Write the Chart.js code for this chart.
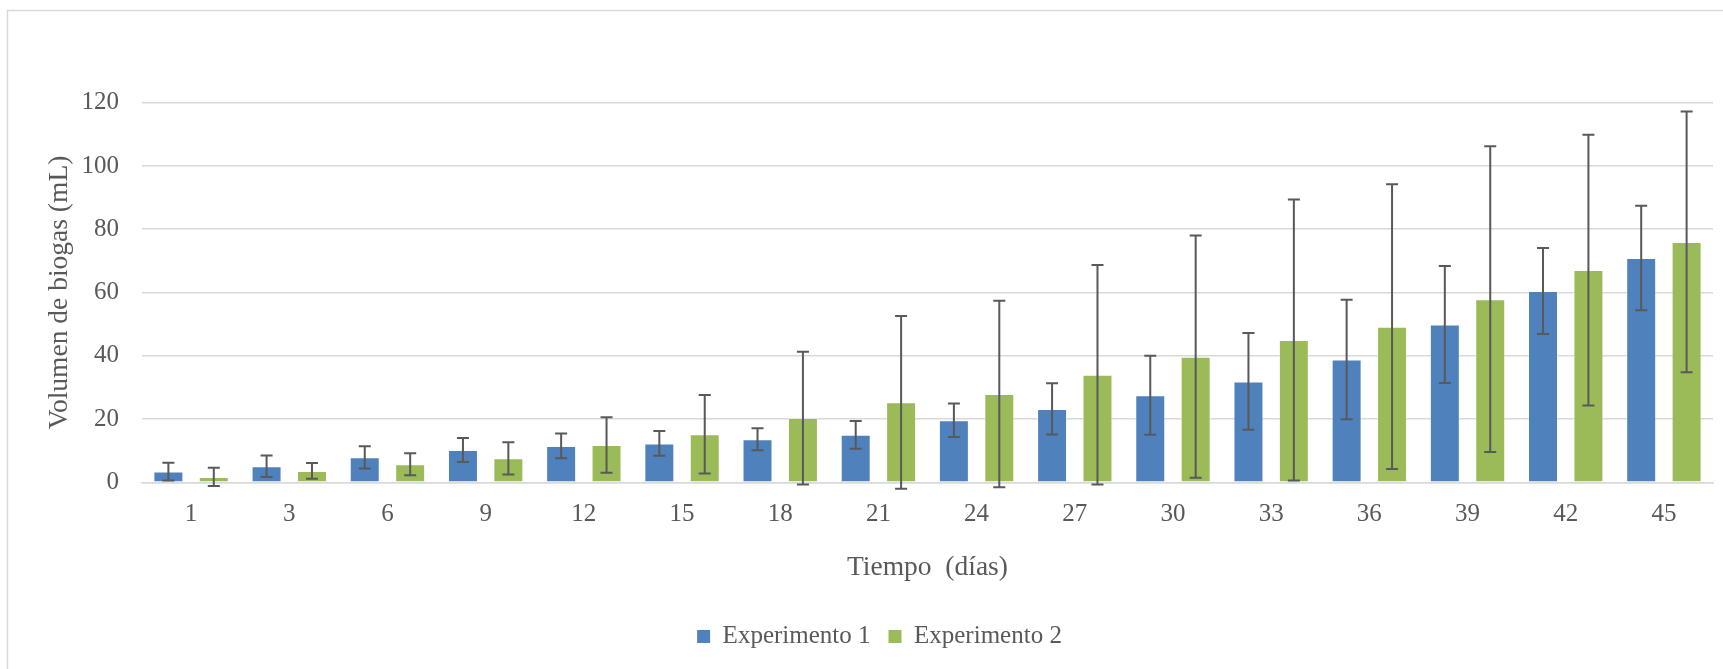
<!DOCTYPE html>
<html>
<head>
<meta charset="utf-8">
<script src="https://cdn.jsdelivr.net/npm/chart.js@4/dist/chart.umd.min.js"></script>
<style>
  html, body { margin: 0; padding: 0; background: #ffffff; }
  #wrap { width: 1723px; height: 669px; position: relative; }
</style>
</head>
<body>
<div id="wrap"><canvas id="c" width="1723" height="669"></canvas></div>
<script>
const categories = ['1','3','6','9','12','15','18','21','24','27','30','33','36','39','42','45'];
const exp1 = [3.4, 5.1, 7.9, 10.2, 11.5, 12.3, 13.6, 15.0, 19.6, 23.2, 27.5, 31.9, 38.8, 49.9, 60.5, 70.9];
const err1 = [2.8, 3.4, 3.5, 3.8, 3.9, 3.9, 3.5, 4.4, 5.3, 8.1, 12.5, 15.3, 18.9, 18.5, 13.6, 16.5];
const exp2 = [1.7, 3.6, 5.7, 7.6, 11.8, 15.2, 20.3, 25.3, 27.9, 34.0, 39.7, 45.0, 49.2, 57.9, 67.1, 76.0];
const err2 = [2.9, 2.5, 3.5, 5.1, 8.8, 12.4, 21.0, 27.3, 29.5, 34.7, 38.3, 44.4, 45.0, 48.3, 42.8, 41.2];
const seriesNames = ['Experimento 1', 'Experimento 2'];
const yTicks = [0, 20, 40, 60, 80, 100, 120];
const xTitle = 'Tiempo  (días)';
const yTitle = 'Volumen de biogas (mL)';

const FONT = "'Liberation Serif', 'DejaVu Serif', serif";
const TEXT = '#595959';
const GRID = '#D9D9D9';

const errorsBySet = [err1, err2];

const frame = {
  id: 'frame',
  beforeDraw(chart) {
    const ctx = chart.ctx;
    ctx.save();
    ctx.fillStyle = '#ffffff';
    ctx.fillRect(0, 0, chart.width, chart.height);
    ctx.strokeStyle = GRID;
    ctx.lineWidth = 1.5;
    ctx.strokeRect(7.5, 10.5, 3000, 3000);
    ctx.restore();
  }
};

const errorBars = {
  id: 'errorBars',
  afterDatasetsDraw(chart) {
    const ctx = chart.ctx;
    const y = chart.scales.y;
    ctx.save();
    ctx.strokeStyle = '#595959';
    ctx.lineWidth = 2;
    chart.data.datasets.forEach((ds, di) => {
      const meta = chart.getDatasetMeta(di);
      const errs = errorsBySet[di];
      meta.data.forEach((bar, i) => {
        const v = ds.data[i], e = errs[i];
        const x = bar.x;
        const yt = y.getPixelForValue(v + e);
        const yb = y.getPixelForValue(v - e);
        ctx.beginPath();
        ctx.moveTo(x, yt); ctx.lineTo(x, yb);
        ctx.moveTo(x - 6, yt); ctx.lineTo(x + 6, yt);
        ctx.moveTo(x - 6, yb); ctx.lineTo(x + 6, yb);
        ctx.stroke();
      });
    });
    ctx.restore();
  }
};

new Chart(document.getElementById('c'), {
  type: 'bar',
  data: {
    labels: categories,
    datasets: [
      { label: seriesNames[0], data: exp1, backgroundColor: '#4F81BD',
        borderColor: 'rgba(255,255,255,0.35)', borderWidth: 1,
        categoryPercentage: 0.925, barPercentage: 0.66 },
      { label: seriesNames[1], data: exp2, backgroundColor: '#9BBB59',
        borderColor: 'rgba(255,255,255,0.35)', borderWidth: 1,
        categoryPercentage: 0.925, barPercentage: 0.66 }
    ]
  },
  options: {
    responsive: false,
    animation: false,
    devicePixelRatio: 1,
    layout: { padding: { left: 46, right: 10, top: 102.7, bottom: 10 } },
    plugins: {
      title: { display: false },
      tooltip: { enabled: false },
      legend: {
        position: 'bottom',
        labels: {
          boxWidth: 13, boxHeight: 13, padding: 18,
          color: TEXT,
          font: { family: FONT, size: 25 },
          generateLabels(chart) {
            return chart.data.datasets.map((ds, i) => ({
              text: ds.label, fillStyle: ds.backgroundColor, strokeStyle: ds.backgroundColor,
              lineWidth: 0, hidden: false, datasetIndex: i, fontColor: TEXT
            }));
          }
        }
      }
    },
    scales: {
      x: {
        grid: { display: false, drawTicks: false },
        border: { display: true, color: GRID, width: 1.5 },
        ticks: {
          color: TEXT, font: { family: FONT, size: 25 },
          padding: 17, autoSkip: false, maxRotation: 0
        },
        title: {
          display: true, text: xTitle, color: TEXT,
          font: { family: FONT, size: 27.5 },
          padding: { top: 0, bottom: 21.5 }
        },
        afterFit(scale) { scale.height = 123.7; }
      },
      y: {
        min: 0, max: 120,
        afterBuildTicks(scale) { scale.ticks = yTicks.map(v => ({ value: v })); },
        grid: { color: GRID, lineWidth: 1.5, drawTicks: false },
        border: { display: false },
        ticks: {
          color: TEXT, font: { family: FONT, size: 25 }, padding: 23
        },
        title: {
          display: true, text: yTitle, color: TEXT,
          font: { family: FONT, size: 27.5, lineHeight: 1 },
          padding: { top: 0, bottom: 0 }
        },
        afterFit(scale) { scale.width = 96; }
      }
    }
  },
  plugins: [frame, errorBars]
});
</script>
</body>
</html>
